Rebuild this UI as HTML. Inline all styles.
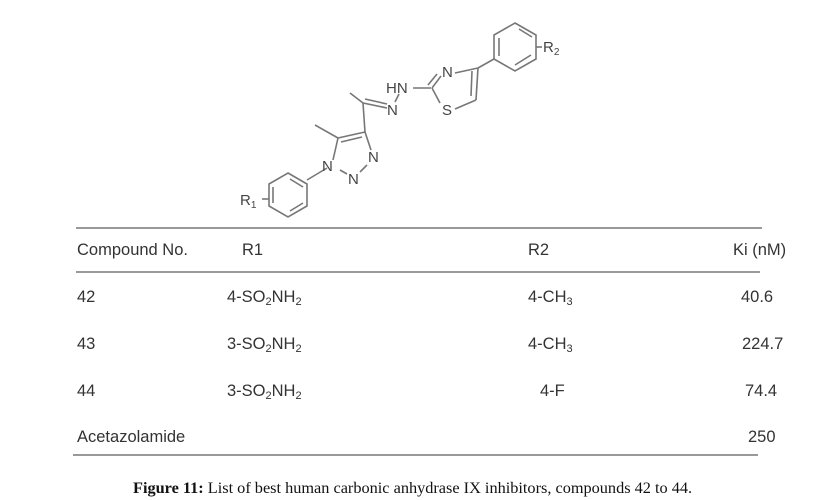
<!DOCTYPE html>
<html><head><meta charset="utf-8"><style>
body{margin:0;width:824px;height:500px;background:#fff;position:relative;overflow:hidden;font-family:"Liberation Sans",sans-serif;color:#333}
.t{position:absolute;font-size:16.5px;line-height:18px;white-space:nowrap}
.l{position:absolute;height:2px;background:#999}
sub{font-size:11px;vertical-align:-3px;line-height:0}
</style></head><body>
<svg width="824" height="225" style="position:absolute;left:0;top:0" font-family="Liberation Sans" font-size="15" fill="#444">
<g stroke="#777" stroke-width="1.6" fill="none">
<polygon points="515,23 536,35 536,59 515,71 494,59 494,35"/>
<line x1="519" y1="29" x2="532" y2="37"/><line x1="531" y1="55" x2="515" y2="65"/><line x1="499" y1="38" x2="499" y2="56"/>
<line x1="536" y1="47" x2="542" y2="47"/>
<line x1="494" y1="59" x2="478" y2="68"/>
<line x1="478" y1="68" x2="476" y2="100"/><line x1="472" y1="71" x2="471" y2="96"/>
<line x1="478" y1="68" x2="455" y2="73"/>
<line x1="441" y1="76" x2="432" y2="88"/><line x1="437" y1="74" x2="428" y2="85"/>
<line x1="432" y1="88" x2="440" y2="103"/>
<line x1="476" y1="100" x2="455" y2="109"/>
<line x1="413" y1="88" x2="431" y2="88"/>
<line x1="399" y1="94" x2="395" y2="102"/>
<line x1="363" y1="103" x2="387" y2="108"/><line x1="365" y1="99" x2="387" y2="104"/>
<line x1="363" y1="103" x2="350" y2="93"/>
<line x1="363" y1="103" x2="365" y2="132"/>
<line x1="365" y1="132" x2="338" y2="138"/><line x1="362" y1="137" x2="341" y2="142"/>
<line x1="338" y1="138" x2="315" y2="125"/>
<line x1="338" y1="138" x2="333" y2="160"/>
<line x1="365" y1="132" x2="371" y2="150"/>
<line x1="340" y1="170" x2="347" y2="174"/>
<line x1="360" y1="172" x2="367" y2="165"/>
<line x1="327" y1="168" x2="307" y2="180"/>
<polygon points="288,173 307,184 307,206 288,217 269,206 269,184"/>
<line x1="290" y1="179" x2="303" y2="187"/><line x1="303" y1="203" x2="290" y2="211"/><line x1="273" y1="187" x2="273" y2="203"/>
<line x1="262" y1="199" x2="269" y2="199"/>
</g>
<text x="543" y="52">R<tspan font-size="10" dy="3">2</tspan></text>
<text x="442" y="77">N</text>
<text x="442" y="115">S</text>
<text x="386" y="93">HN</text>
<text x="387" y="115">N</text>
<text x="368" y="162">N</text>
<text x="348" y="184">N</text>
<text x="322" y="171">N</text>
<text x="240" y="205">R<tspan font-size="10" dy="3">1</tspan></text>
</svg>
<div class="l" style="left:76px;top:227px;width:686px"></div>
<div class="l" style="left:76px;top:271px;width:684px"></div>
<div class="l" style="left:73px;top:454px;width:685px"></div>
<div class="t" style="left:77px;top:241px">Compound No.</div>
<div class="t" style="left:242px;top:241px">R1</div>
<div class="t" style="left:528px;top:241px">R2</div>
<div class="t" style="left:733px;top:241px">Ki (nM)</div>
<div class="t" style="left:77px;top:288px">42</div>
<div class="t" style="left:227px;top:288px">4-SO<sub>2</sub>NH<sub>2</sub></div>
<div class="t" style="left:528px;top:288px">4-CH<sub>3</sub></div>
<div class="t" style="left:741px;top:288px">40.6</div>
<div class="t" style="left:77px;top:335px">43</div>
<div class="t" style="left:227px;top:335px">3-SO<sub>2</sub>NH<sub>2</sub></div>
<div class="t" style="left:528px;top:335px">4-CH<sub>3</sub></div>
<div class="t" style="left:742px;top:335px">224.7</div>
<div class="t" style="left:77px;top:382px">44</div>
<div class="t" style="left:227px;top:382px">3-SO<sub>2</sub>NH<sub>2</sub></div>
<div class="t" style="left:540px;top:382px">4-F</div>
<div class="t" style="left:745px;top:382px">74.4</div>
<div class="t" style="left:77px;top:428px">Acetazolamide</div>
<div class="t" style="left:748px;top:428px">250</div>
<div class="t" style="left:133px;top:479px;font-family:'Liberation Serif',serif;font-size:16.3px;color:#111"><b>Figure 11:</b> List of best human carbonic anhydrase IX inhibitors, compounds 42 to 44.</div>
</body></html>
